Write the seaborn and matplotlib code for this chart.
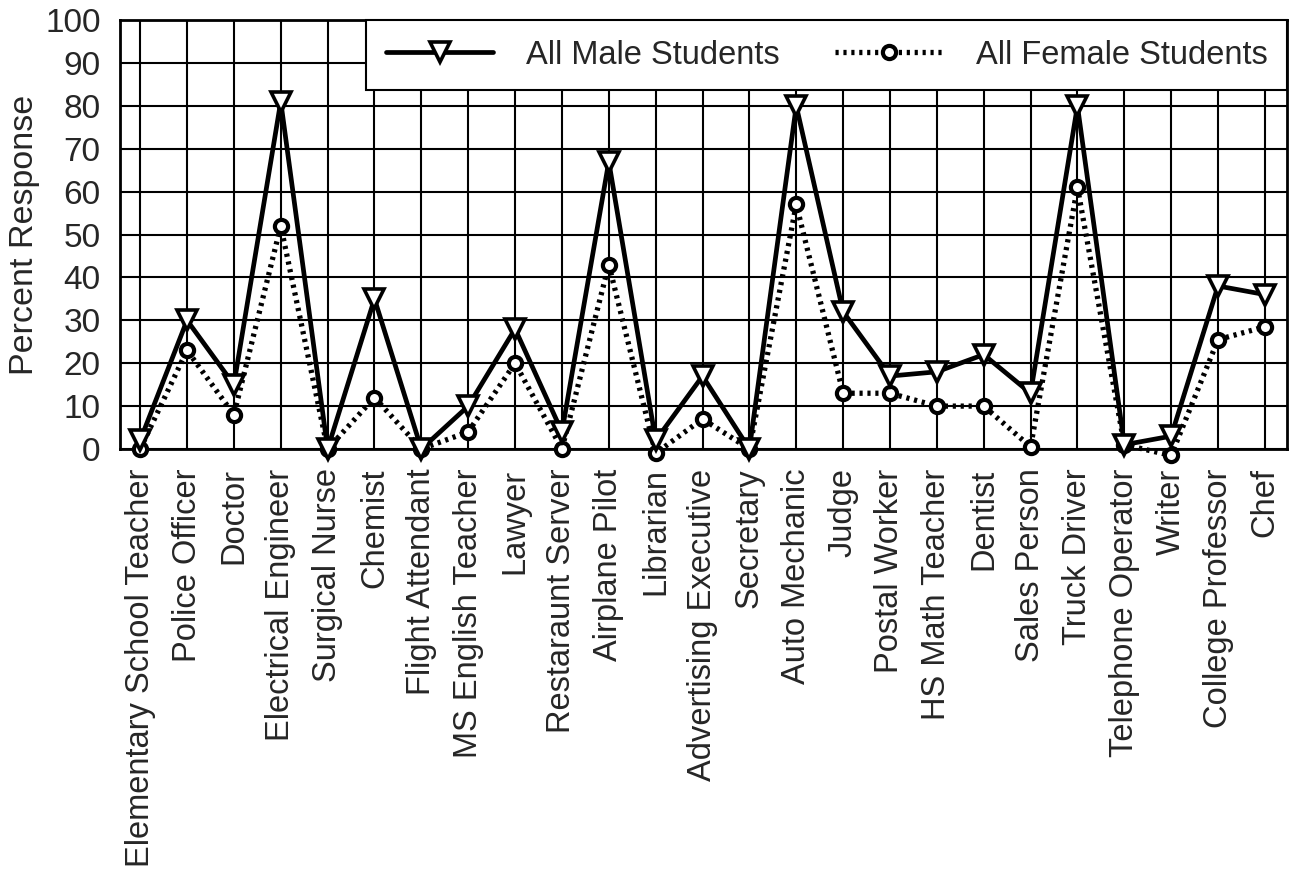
import pandas as pd
import matplotlib
matplotlib.use("Agg")
import matplotlib.pyplot as plt
import seaborn as sns

# data
jobs = ["Elementary School Teacher", "Police Officer", "Doctor", "Electrical Engineer",
        "Surgical Nurse", "Chemist", "Flight Attendant", "MS English Teacher", "Lawyer",
        "Restaraunt Server", "Airplane Pilot", "Librarian", "Advertising Executive",
        "Secretary", "Auto Mechanic", "Judge", "Postal Worker", "HS Math Teacher",
        "Dentist", "Sales Person", "Truck Driver", "Telephone Operator", "Writer",
        "College Professor", "Chef"]
male = [2, 30, 15, 81, 0, 35, 0, 10, 28, 4, 67, 2, 17, 0, 80, 32, 17, 18, 22, 13, 80, 1, 3, 38, 36]
female = [0, 23, 8, 52, 0, 12, 0, 4, 20, 0, 43, -1, 7, 0, 57, 13, 13, 10, 10, 0.5, 61, 1, -1.5, 25.5, 28.5]
yticks = list(range(0, 101, 10))

df = pd.DataFrame({"pos": range(len(jobs)), "job": jobs, "male": male, "female": female})

sns.set_style("white")
plt.rcParams["font.family"] = ["Liberation Sans", "DejaVu Sans"]
plt.rcParams["font.size"] = 23

fig = plt.figure(figsize=(12.96, 8.71), dpi=100)
ax = fig.add_axes([0.0926, 0.4845, 0.9004, 0.4925])

sns.lineplot(data=df, x="pos", y="male", ax=ax, color="black", lw=3.4, marker="v",
             markersize=14, markerfacecolor="white", markeredgecolor="black",
             markeredgewidth=2.6, sort=False, label="All Male Students", clip_on=False, zorder=4)
sns.lineplot(data=df, x="pos", y="female", ax=ax, color="black", lw=3.8, ls=(0, (0.6, 0.9)),
             marker="o", markersize=9.5, markerfacecolor="white", markeredgecolor="black",
             markeredgewidth=3, sort=False, label="All Female Students", clip_on=False, zorder=3)

ax.set_xlim(-0.43, len(jobs) - 1 + 0.47)
ax.set_ylim(0, 100)
ax.set_xticks(df["pos"])
ax.set_xticklabels(jobs, rotation=90, fontsize=23.5)
ax.set_yticks(yticks)
ax.set_yticklabels([str(t) for t in yticks], fontsize=24)
ax.set_xlabel("")
ax.set_ylabel("Percent Response", fontsize=24.5, labelpad=4)

ax.grid(True, color="black", lw=1.5)
ax.set_axisbelow(True)
for s in ax.spines.values():
    s.set_color("black")
    s.set_linewidth(2)
ax.tick_params(axis="x", direction="out", length=9, width=2, color="black", pad=5)
ax.tick_params(axis="y", direction="out", length=11, width=2, color="black", pad=3)

leg = ax.legend(loc="upper right", bbox_to_anchor=(1, 1), borderaxespad=0, ncol=2,
                frameon=True, fancybox=False, framealpha=1, edgecolor="black",
                handlelength=3.3, handletextpad=1.0, columnspacing=1.7,
                borderpad=0.6, fontsize=23.5)
leg.get_frame().set_linewidth(1.5)
leg.set_zorder(5)

fig.savefig("out.png", dpi=100)
